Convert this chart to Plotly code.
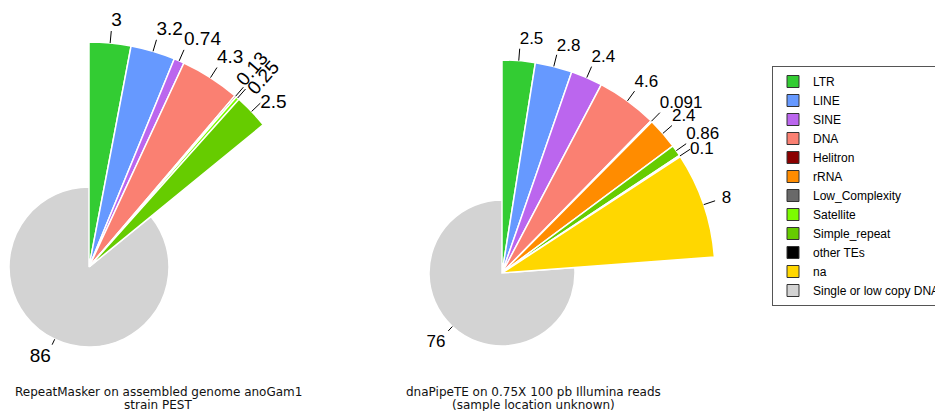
import math
import plotly.graph_objects as go

# ---------------- data ----------------
categories = ["LTR", "LINE", "SINE", "DNA", "Helitron", "rRNA", "Low_Complexity",
              "Satellite", "Simple_repeat", "other TEs", "na", "Single or low copy DNA"]
left_values = [3, 3.2, 0.74, 4.3, 0.13, None, None, 0.25, 2.5, None, None, 86]
right_values = [2.5, 2.8, 2.4, 4.6, 0.091, 2.4, None, None, 0.86, 0.1, 8, 76]
left_title = ["RepeatMasker on assembled genome anoGam1", "strain PEST"]
right_title = ["dnaPipeTE on 0.75X 100 pb Illumina reads", "(sample location unknown)"]

# ---------------- style ----------------
colors = ["#33CC33", "#6699FF", "#BB66EE", "#FA8072", "#8B0000", "#FF8C00", "#696969",
          "#7CFC00", "#66CC00", "#000000", "#FFD700", "#D3D3D3"]
BASE = "Single or low copy DNA"
W, H = 935, 411

pies = [
    dict(values=left_values, title=left_title, center=(89, 267), r_small=80, r_big=225,
         base_range=89, rep_range=262, base_sub="polar", rep_sub="polar2", title_x=158,
         font_size=19,
         pos={"Simple_repeat": "middle right", BASE: "bottom left"},
         gap={BASE: 2.9},
         rotated={"Helitron": -6, "Satellite": 6}),
    dict(values=right_values, title=right_title, center=(502, 273), r_small=73, r_big=213,
         base_range=100, rep_range=262, base_sub="polar3", rep_sub="polar4", title_x=533,
         font_size=17,
         pos={"other TEs": "middle right", "na": "middle right", BASE: "bottom left"},
         gap={"na": 7, BASE: 4},
         rotated={}),
]
TICK_BIG, TICK_SMALL = 12, 6
TITLE_LINE_Y = [392, 405]

fig = go.Figure()

# legend-only entries (dark outlined squares)
for cat, col in zip(categories, colors):
    fig.add_trace(go.Barpolar(r=[0], theta=[0], width=[0], name=cat, legendgroup=cat,
                              marker=dict(color=col, line=dict(color="#333333", width=1)),
                              subplot="polar", showlegend=True, hoverinfo="skip"))

annotations = []
for p in pies:
    label_font = dict(family="Liberation Sans, Arial, sans-serif", size=p["font_size"],
                      color="black")
    vals = p["values"]
    total = sum(v for v in vals if v is not None)
    cum = 0.0
    labels = {p["base_sub"]: dict(tr=[], tt=[], lr=[], lt=[], txt=[], pos=[]),
              p["rep_sub"]: dict(tr=[], tt=[], lr=[], lt=[], txt=[], pos=[])}
    for cat, col, v in zip(categories, colors, vals):
        if v is None:
            continue
        span = v / total * 360.0
        mid = (cum + v / 2) / total * 360.0
        cum += v
        is_base = cat == BASE
        R = p["r_small"] if is_base else p["r_big"]
        T = TICK_SMALL if is_base else TICK_BIG
        sub = p["base_sub"] if is_base else p["rep_sub"]
        fig.add_trace(go.Barpolar(r=[R], theta=[mid], width=[span], name=cat, legendgroup=cat,
                                  marker=dict(color=col, line=dict(color="white", width=1.5)),
                                  subplot=sub, showlegend=False, hoverinfo="skip"))
        L = labels[sub]
        L["tr"] += [R, R + T, None]
        L["tt"] += [mid, mid, None]
        if cat in p["rotated"]:
            a = math.radians(mid)
            d = R + T + 20
            off = p["rotated"][cat]
            cx, cy = p["center"]
            px = cx + d * math.sin(a) + off * math.cos(a)
            py = cy - d * math.cos(a) + off * math.sin(a)
            annotations.append(dict(x=px / W, y=1 - py / H, xref="paper", yref="paper",
                                    text=f"{v:g}", showarrow=False, textangle=mid - 90,
                                    xanchor="center", yanchor="middle", font=label_font))
        else:
            L["lr"].append(R + T + p["gap"].get(cat, 0))
            L["lt"].append(mid)
            L["txt"].append(f"{v:g}")
            L["pos"].append(p["pos"].get(cat, "top right"))
    for sub, L in labels.items():
        fig.add_trace(go.Scatterpolar(r=L["tr"], theta=L["tt"], mode="lines",
                                      line=dict(color="black", width=1), subplot=sub,
                                      showlegend=False, hoverinfo="skip", cliponaxis=False))
        fig.add_trace(go.Scatterpolar(r=L["lr"], theta=L["lt"], mode="text", text=L["txt"],
                                      textposition=L["pos"], textfont=label_font,
                                      subplot=sub, showlegend=False, hoverinfo="skip",
                                      cliponaxis=False))
    for line, ly in zip(p["title"], TITLE_LINE_Y):
        annotations.append(dict(x=p["title_x"] / W, y=1 - ly / H, xref="paper", yref="paper",
                                text=line, showarrow=False, xanchor="center",
                                yanchor="middle",
                                font=dict(family="DejaVu Sans", size=12, color="#111111")))


def base_polar(p):
    cx, cy = p["center"]
    rr = p["base_range"]
    return dict(
        domain=dict(x=[(cx - rr) / W, (cx + rr) / W], y=[1 - (cy + rr) / H, 1 - (cy - rr) / H]),
        radialaxis=dict(visible=False, range=[0, rr]),
        angularaxis=dict(visible=False, direction="clockwise", rotation=90),
        bgcolor="rgba(0,0,0,0)",
    )


def rep_polar(p):
    cx, cy = p["center"]
    rr = p["rep_range"]
    return dict(
        domain=dict(x=[cx / W, (cx + rr) / W], y=[1 - cy / H, 1 - (cy - rr) / H]),
        sector=[0, 90],
        radialaxis=dict(visible=False, range=[0, rr]),
        angularaxis=dict(visible=False, direction="clockwise", rotation=90),
        bgcolor="rgba(0,0,0,0)",
    )


fig.update_layout(
    width=W, height=H,
    margin=dict(l=0, r=0, t=0, b=0, autoexpand=False),
    paper_bgcolor="white", plot_bgcolor="white",
    polar=base_polar(pies[0]), polar2=rep_polar(pies[0]),
    polar3=base_polar(pies[1]), polar4=rep_polar(pies[1]),
    annotations=annotations,
    legend=dict(x=772 / W, y=1 - 186 / H, xanchor="left", yanchor="middle",
                bordercolor="#555555", borderwidth=1, bgcolor="white", tracegroupgap=0,
                font=dict(family="Liberation Sans, Arial, sans-serif", size=12, color="black"),
                itemclick=False, itemdoubleclick=False),
)

fig.write_html("out.html", config={"displayModeBar": False},
               post_script="document.body.style.margin='0px';")
